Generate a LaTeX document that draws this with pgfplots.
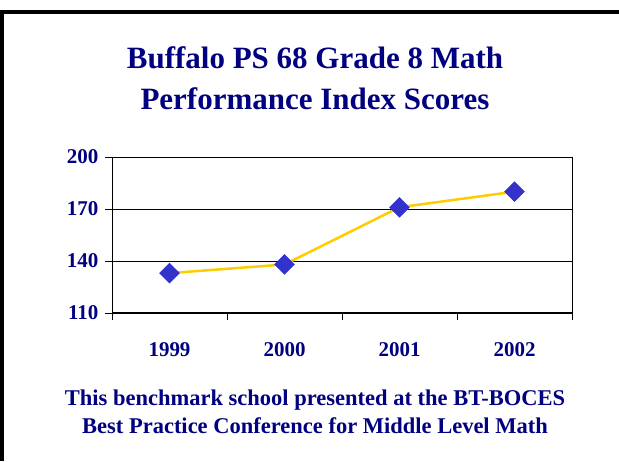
\documentclass[border=0pt]{standalone}
\usepackage{pgfplots}
\pgfplotsset{compat=1.18}
\usepackage{fontspec}
\setmainfont{Liberation Serif}
\definecolor{navy}{HTML}{000080}
\definecolor{mk}{HTML}{3333CC}
\definecolor{gold}{HTML}{FFCC00}
\begin{document}
\begin{tikzpicture}[x=1pt,y=1pt]
\path[use as bounding box] (0,0) rectangle (619,461);
\draw[line width=4pt,black] (619,449) -- (2,449) -- (2,0);
\node[font=\bfseries\fontsize{31}{36}\selectfont,text=navy] at (315,403) {Buffalo PS 68 Grade 8 Math};
\node[font=\bfseries\fontsize{31}{36}\selectfont,text=navy] at (315,362) {Performance Index Scores};
\node[font=\bfseries\fontsize{22.5}{26}\selectfont,text=navy] at (315,61) {This benchmark school presented at the BT-BOCES};
\node[font=\bfseries\fontsize{22.5}{26}\selectfont,text=navy] at (315,35) {Best Practice Conference for Middle Level Math};
\begin{axis}[
  at={(112pt,148pt)}, anchor=south west,
  scale only axis, width=460pt, height=156pt,
  xmin=-0.5, xmax=3.5, ymin=110, ymax=200,
  ytick={110,140,170,200},
  xtick={-0.5,0.5,1.5,2.5,3.5},
  xticklabels={},
  extra x ticks={0,1,2,3},
  extra x tick labels={1999,2000,2001,2002},
  extra x tick style={major tick length=0pt, xticklabel style={yshift=-26pt}},
  tick align=outside,
  xtick pos=bottom, ytick pos=left,
  major tick length=7pt,
  tick style={black, line width=0.8pt},
  ymajorgrids,
  grid style={black, line width=0.8pt},
  axis line style={black, line width=0.8pt},
  /pgf/number format/assume math mode=true,
  ticklabel style={font=\bfseries\fontsize{21}{25}\selectfont, text=navy},
  yticklabel style={xshift=-3pt},
  clip=false,
]
\addplot[gold, line width=2.5pt, mark=square*, mark size=7pt,
  mark options={fill=mk, draw=mk, line width=0.5pt, rotate=45}]
  coordinates {(0,133) (1,138) (2,171) (3,180)};
\draw[black, line width=2pt] (axis cs:-0.5,110) -- (axis cs:3.5,110);
\end{axis}
\end{tikzpicture}
\end{document}
